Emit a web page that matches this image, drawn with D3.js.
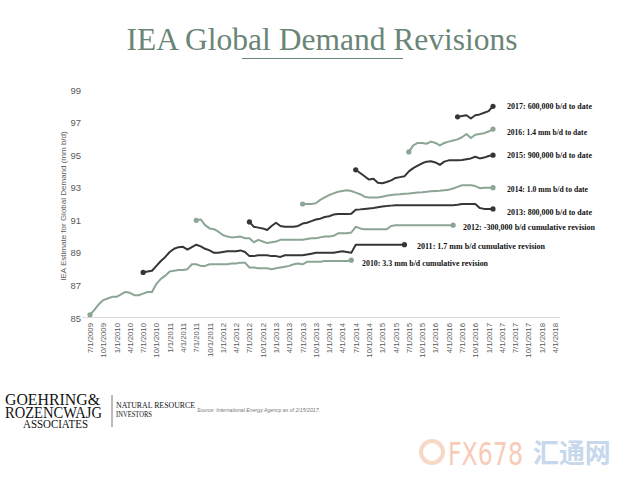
<!DOCTYPE html>
<html>
<head>
<meta charset="utf-8">
<script src="https://cdn.jsdelivr.net/npm/d3@7"></script>
<style>
  html, body { margin: 0; padding: 0; background: #ffffff; }
  svg { display: block; }
</style>
</head>
<body>
<svg id="chart" width="630" height="490"></svg>
<script>
// ---------- DATA ----------
// Month index 0 = 7/1/2009 ; quarterly tick labels
const tickLabels = ["7/1/2009","10/1/2009","1/1/2010","4/1/2010","7/1/2010","10/1/2010",
  "1/1/2011","4/1/2011","7/1/2011","10/1/2011","1/1/2012","4/1/2012","7/1/2012","10/1/2012",
  "1/1/2013","4/1/2013","7/1/2013","10/1/2013","1/1/2014","4/1/2014","7/1/2014","10/1/2014",
  "1/1/2015","4/1/2015","7/1/2015","10/1/2015","1/1/2016","4/1/2016","7/1/2016","10/1/2016",
  "1/1/2017","4/1/2017","7/1/2017","10/1/2017","1/1/2018","4/1/2018"];
const yTicks = [85, 87, 89, 91, 93, 95, 97, 99];

const seriesNames = ["2010","2011","2012","2013","2014","2015","2016","2017"];
const seriesStart = [0, 12, 24, 36, 48, 60, 72, 83];   // first month index of each estimate
const seriesLabels = [
  "2010: 3.3 mm b/d cumulative revision",
  "2011: 1.7 mm b/d cumulative revision",
  "2012: -300,000 b/d cumulative revision",
  "2013: 800,000 b/d to date",
  "2014: 1.0 mm b/d to date",
  "2015: 900,000 b/d to date",
  "2016: 1.4 mm b/d to date",
  "2017: 600,000 b/d to date"
];

const s2010 = [85.2,85.5,85.85,86.1,86.2,86.3,86.3,86.45,86.6,86.55,86.4,86.4,86.5,86.6,86.6,87.1,
  87.4,87.6,87.85,87.9,87.95,87.95,88.0,88.3,88.3,88.2,88.2,88.3,88.3,88.3,88.3,88.3,88.35,88.35,
  88.4,88.4,88.1,88.1,88.05,88.05,88.05,88.0,88.05,88.1,88.15,88.2,88.3,88.35,88.3,88.45,88.45,
  88.45,88.45,88.5,88.5,88.5,88.5,88.5,88.5,88.55];
const s2011 = [87.8,87.85,87.9,88.2,88.5,88.75,89.05,89.25,89.35,89.37,89.2,89.35,89.5,89.4,89.25,
  89.15,89.0,89.0,89.05,89.1,89.1,89.1,89.15,89.05,88.8,88.8,88.85,88.85,88.85,88.8,88.8,88.75,
  88.85,88.85,88.85,88.85,88.85,88.9,88.95,89.0,89.0,89.0,89.0,89.0,89.05,89.1,89.05,89.0,89.5,
  89.5,89.5,89.5,89.5,89.5,89.5,89.5,89.5,89.5,89.5,89.5];
const s2012 = [91.0,91.05,90.7,90.5,90.45,90.3,90.1,90.0,89.95,89.97,90.0,89.9,89.9,89.65,89.8,
  89.7,89.6,89.65,89.7,89.8,89.8,89.8,89.8,89.8,89.8,89.85,89.9,89.9,89.95,90.0,90.0,90.05,90.2,
  90.2,90.2,90.25,90.6,90.5,90.45,90.45,90.45,90.45,90.45,90.45,90.65,90.7,90.7,90.7,90.7,90.7,
  90.7,90.7,90.7,90.7,90.7,90.7,90.7,90.7,90.7];
const s2013 = [90.9,90.6,90.55,90.5,90.4,90.65,90.85,90.65,90.6,90.6,90.6,90.65,90.8,90.85,90.95,
  91.05,91.1,91.2,91.25,91.35,91.38,91.38,91.38,91.4,91.65,91.67,91.7,91.73,91.75,91.8,91.85,
  91.87,91.9,91.93,91.93,91.93,91.93,91.93,91.93,91.93,91.93,91.93,91.93,91.93,91.93,91.93,91.93,
  91.95,92.0,92.0,92.0,92.0,91.75,91.7,91.7,91.7];
const s2014 = [92.0,92.0,92.0,92.05,92.25,92.4,92.55,92.65,92.75,92.8,92.85,92.8,92.7,92.6,92.45,
  92.4,92.4,92.4,92.45,92.5,92.55,92.58,92.6,92.63,92.65,92.68,92.7,92.72,92.75,92.78,92.8,92.82,
  92.85,92.88,92.95,93.05,93.15,93.15,93.15,93.1,92.97,93.0,93.0,93.0];
const s2015 = [94.1,93.9,93.7,93.5,93.55,93.3,93.27,93.35,93.45,93.6,93.65,93.7,94.0,94.2,94.35,
  94.5,94.6,94.63,94.55,94.4,94.6,94.68,94.68,94.68,94.7,94.75,94.8,94.9,94.8,94.85,94.95,95.0];
const s2016 = [95.2,95.6,95.75,95.75,95.7,95.83,95.75,95.6,95.75,95.83,95.9,95.97,96.1,96.3,96.05,
  96.25,96.3,96.35,96.45,96.6];
const s2017 = [97.35,97.4,97.45,97.25,97.45,97.5,97.6,97.7,98.0];

const seriesValues = [s2010, s2011, s2012, s2013, s2014, s2015, s2016, s2017];
const seriesColors = ["green","dark","green","dark","green","dark","green","dark"];

// ---------- DRAW ----------
const svg = d3.select("#chart");
const GREEN = "#8ca595", DARK = "#363636", TEXT = "#595959";
const colorOf = c => c === "green" ? GREEN : DARK;
const serif = "'Liberation Serif', 'Times New Roman', serif";
const sans = "'Liberation Sans', Arial, sans-serif";

const x = d3.scaleLinear().domain([0, 105]).range([90, 555]);
const y = d3.scaleLinear().domain([85, 99]).range([318, 90]);

// Title
svg.append("text").attr("x", 126.5).attr("y", 50)
  .attr("font-family", serif)
  .attr("font-size", 32).attr("fill", "#6a8576")
  .attr("textLength", 391).attr("lengthAdjust", "spacingAndGlyphs")
  .text("IEA Global Demand Revisions");
svg.append("line").attr("x1", 242).attr("x2", 403).attr("y1", 58.5).attr("y2", 58.5)
  .attr("stroke", "#6a8576").attr("stroke-width", 1);

// X axis line
svg.append("line").attr("x1", 83).attr("x2", 560).attr("y1", 317.5).attr("y2", 317.5)
  .attr("stroke", "#d9d9d9").attr("stroke-width", 1);

// Y tick labels
const yAxis = d3.axisLeft(y).tickValues(yTicks).tickSize(0).tickPadding(0);
const gy = svg.append("g").attr("transform", "translate(81,0)").call(yAxis);
gy.select(".domain").remove();
gy.selectAll("text").attr("font-family", sans)
  .attr("font-size", 9.5).attr("fill", TEXT);

// X tick labels (rotated)
const xAxis = d3.axisBottom(x).tickValues(d3.range(0, 106, 3))
  .tickFormat((d, i) => tickLabels[i]).tickSize(0).tickPadding(0);
const gx = svg.append("g").attr("transform", "translate(0,323)").call(xAxis);
gx.select(".domain").remove();
gx.selectAll("text")
  .attr("font-family", sans)
  .attr("font-size", 7.8).attr("fill", TEXT)
  .attr("text-anchor", "end").attr("dy", "0.32em").attr("y", 0).attr("x", 0)
  .attr("transform", "rotate(-90)");

// Y axis title
svg.append("text").attr("transform", "translate(66,206) rotate(-90)")
  .attr("text-anchor", "middle")
  .attr("font-family", sans)
  .attr("font-size", 8).attr("fill", TEXT)
  .text("IEA Estimate for Global Demand (mm b/d)");

// Series lines
const line = d3.line().x(d => x(d.i)).y(d => y(d.v));
seriesValues.forEach((vals, k) => {
  const pts = vals.map((v, j) => ({ i: seriesStart[k] + j, v }));
  const col = colorOf(seriesColors[k]);
  svg.append("path").datum(pts).attr("d", line)
    .attr("fill", "none").attr("stroke", col).attr("stroke-width", 2)
    .attr("stroke-linejoin", "round");
  [pts[0], pts[pts.length - 1]].forEach(p => {
    svg.append("circle").attr("cx", x(p.i)).attr("cy", y(p.v)).attr("r", 2.6).attr("fill", col);
  });
});

// Series annotations
const labelPos = [[362, 266], [417, 249], [463, 229.5], [507, 214.5], [507, 191.5], [507, 158], [507, 134.5], [507, 108.5]];
const labelW = [126, 128, 132, 85, 81, 85, 80, 85];
seriesLabels.forEach((t, k) => {
  svg.append("text").attr("x", labelPos[k][0]).attr("y", labelPos[k][1])
    .attr("font-family", serif)
    .attr("font-weight", "bold").attr("font-size", 8).attr("fill", "#111")
    .attr("textLength", labelW[k]).attr("lengthAdjust", "spacingAndGlyphs")
    .text(t);
});

// Logo (one text block with stacked lines)
const logo = svg.append("text").attr("font-family", serif).attr("fill", "#111");
logo.append("tspan").attr("x", 5).attr("y", 405).attr("font-size", 16)
  .attr("textLength", 95).attr("lengthAdjust", "spacingAndGlyphs").text("GOEHRING&");
logo.append("tspan").attr("x", 5).attr("y", 418).attr("font-size", 16)
  .attr("textLength", 97).attr("lengthAdjust", "spacingAndGlyphs").text("ROZENCWAJG");
logo.append("tspan").attr("x", 23).attr("y", 428).attr("font-size", 11.5)
  .attr("textLength", 65).attr("lengthAdjust", "spacingAndGlyphs").text("ASSOCIATES");
svg.append("line").attr("x1", 112).attr("x2", 112).attr("y1", 395).attr("y2", 427)
  .attr("stroke", "#555").attr("stroke-width", 0.8);
svg.append("text").attr("x", 116).attr("y", 408).attr("font-family", serif).attr("font-size", 9)
  .attr("fill", "#111").attr("textLength", 79).attr("lengthAdjust", "spacingAndGlyphs").text("NATURAL RESOURCE");
svg.append("text").attr("x", 116).attr("y", 417).attr("font-family", serif).attr("font-size", 9)
  .attr("fill", "#111").attr("textLength", 36).attr("lengthAdjust", "spacingAndGlyphs").text("INVESTORS");
svg.append("text").attr("x", 197).attr("y", 412).attr("font-family", sans)
  .attr("font-style", "italic").attr("font-size", 5).attr("fill", "#777")
  .attr("textLength", 123).attr("lengthAdjust", "spacingAndGlyphs")
  .text("Source: International Energy Agency as of 2/15/2017.");

// Watermark
const wm = svg.append("g").attr("opacity", 0.5);
wm.append("circle").attr("cx", 432).attr("cy", 452).attr("r", 11)
  .attr("fill", "none").attr("stroke", "#f3b08f").attr("stroke-width", 4);
wm.append("text").attr("transform", "translate(448,465) scale(0.74,1)")
  .attr("font-family", "'DejaVu Sans', sans-serif")
  .attr("font-size", 32).attr("fill", "#f0986e").text("FX678");
wm.append("text").attr("transform", "translate(533,463) scale(0.96,1)")
  .attr("font-family", "'Noto Sans CJK SC', sans-serif")
  .attr("font-size", 27).attr("font-weight", "bold").attr("fill", "#8fb2d8").text("汇通网");
</script>
</body>
</html>
